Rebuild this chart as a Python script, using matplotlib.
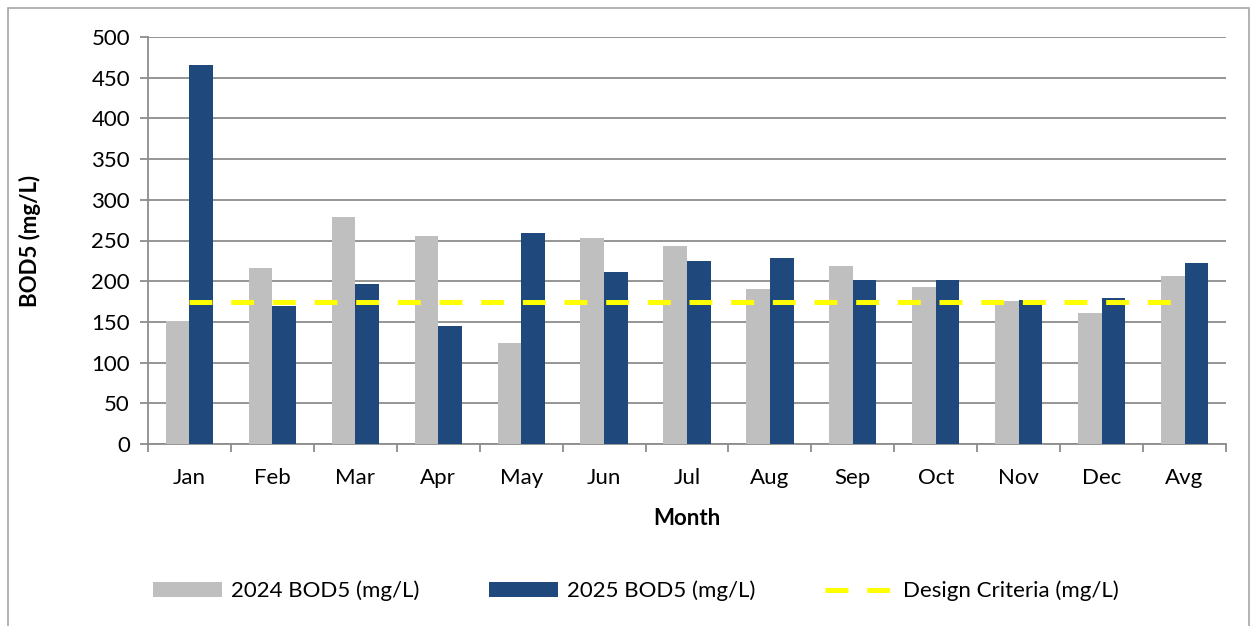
import numpy as np
import matplotlib
matplotlib.use("Agg")
import matplotlib.pyplot as plt
from matplotlib.patches import Rectangle

# Datos
meses = ["Jan", "Feb", "Mar", "Apr", "May", "Jun", "Jul", "Aug", "Sep", "Oct", "Nov", "Dec", "Avg"]
bod_2024 = [151, 216, 279, 256, 124, 253, 243, 191, 219, 193, 176, 161, 206]
bod_2025 = [465, 170, 196, 145, 259, 211, 225, 229, 202, 202, 177, 179, 222]
criterio = [175] * len(meses)

plt.rcParams['font.family'] = ['Lato', 'DejaVu Sans']
plt.rcParams['lines.scale_dashes'] = False

fs = 16

fig = plt.figure(figsize=(12.52, 6.26), dpi=100)
ax = fig.add_axes([148 / 1252, 1 - 444 / 626, (1226 - 148) / 1252, (444 - 37) / 626])

x = np.arange(len(meses))
ancho = 0.285
b1 = ax.bar(x - ancho / 2, bod_2024, ancho, color="#BFBFBF", label="2024 BOD5 (mg/L)", zorder=3)
b2 = ax.bar(x + ancho / 2, bod_2025, ancho, color="#1F497D", label="2025 BOD5 (mg/L)", zorder=3)
l1, = ax.plot(x, criterio, color="#FFFF00", lw=3.6, dashes=(16.5, 13.5),
              label="Design Criteria (mg/L)", zorder=4)

ax.set_xlim(-0.5, len(meses) - 0.5)
ax.set_ylim(0, 500)
ax.set_yticks(range(0, 501, 50))
ax.set_xticks(x)
ax.set_xticklabels(meses)
ax.set_xticks(np.arange(-0.5, len(meses), 1), minor=True)

ax.grid(axis="y", color="#8C8C8C", lw=1.3, zorder=0)
for lado in ["top", "right"]:
    ax.spines[lado].set_visible(False)
for lado in ["left", "bottom"]:
    ax.spines[lado].set_color("#8C8C8C")
    ax.spines[lado].set_linewidth(1.3)

ax.tick_params(axis="y", direction="out", length=6, color="#8C8C8C", width=1.3,
               labelsize=fs, pad=7)
ax.tick_params(axis="x", which="major", length=0, labelsize=fs, pad=17)
ax.tick_params(axis="x", which="minor", direction="out", length=6, color="#8C8C8C", width=1.3)

ax.set_ylabel("BOD5 (mg/L)", fontsize=fs, fontweight="bold")
ax.set_xlabel("Month", fontsize=fs, fontweight="bold")
ax.yaxis.set_label_coords(-0.1095, 0.5)
ax.xaxis.set_label_coords(0.5, -0.184)
ax.xaxis.label.set_va("center")
ax.yaxis.label.set_va("center")

ax.legend([b1, b2, l1], [b1.get_label(), b2.get_label(), l1.get_label()],
          loc="center", bbox_to_anchor=(0.508, 0.056), bbox_transform=fig.transFigure,
          ncol=3, frameon=False, fontsize=fs, handlelength=3.1, handleheight=0.62,
          handletextpad=0.4, columnspacing=3.15)

# Marco exterior
fig.patches.append(Rectangle((8 / 1252, -0.01), (1249 - 8) / 1252, 0.01 + 618 / 626,
                             transform=fig.transFigure, fill=False,
                             edgecolor="#A6A6A6", lw=1.2))

fig.savefig("out.png", dpi=100)
